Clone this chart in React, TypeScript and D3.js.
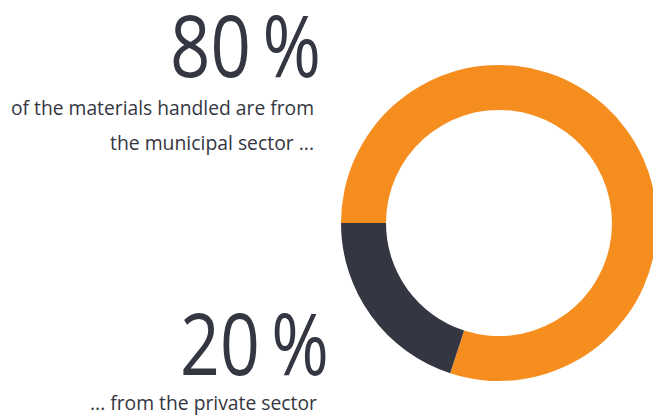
import { FC, useEffect, useRef } from "react";
import * as d3 from "d3";

// shares of handled materials by sector
const sectors = ["municipal", "private"];
const shares = [80, 20];
const sectorColors = ["#F68E1F", "#343641"];

const percentLabels = ["80\u2009%", "20\u2009%"];
const captionMunicipal = ["of the materials handled are from", "the municipal sector ..."];
const captionPrivate = ["... from the private sector"];

const App: FC = () => {
    const ref = useRef<SVGSVGElement>(null);

    useEffect(() => {
        const svg = d3.select(ref.current);
        svg.selectAll("*").remove();

        var width = 653,
            height = 417,
            cx = 499,
            cy = 223,
            outer = 158,
            inner = 113;

        var textColor = "#343641";
        var font = "'Open Sans', 'Noto Sans', sans-serif";

        var pie = d3.pie<number>()
            .sort(null)
            .startAngle(-Math.PI / 2)
            .endAngle(Math.PI * 1.5);

        var arc = d3.arc<d3.PieArcDatum<number>>()
            .innerRadius(inner)
            .outerRadius(outer);

        svg.attr("width", width).attr("height", height);

        svg.append("g")
            .attr("transform", "translate(" + cx + "," + cy + ")")
            .selectAll("path")
            .data(pie(shares))
            .enter()
            .append("path")
            .attr("d", arc)
            .attr("fill", (d, i) => sectorColors[i])
            .attr("data-sector", (d, i) => sectors[i]);

        // big percentage numbers
        var big = [
            { text: percentLabels[0], x: 321, y: 77, len: 151 },
            { text: percentLabels[1], x: 329, y: 375, len: 149 },
        ];
        svg.selectAll(".big")
            .data(big)
            .enter()
            .append("text")
            .attr("class", "big")
            .attr("x", d => d.x - d.len)
            .attr("y", d => d.y)
            .attr("textLength", d => d.len)
            .attr("lengthAdjust", "spacingAndGlyphs")
            .attr("font-family", font)
            .attr("font-size", 86)
            .attr("fill", textColor)
            .text(d => d.text);

        // captions
        var captions = [
            { text: captionMunicipal[0], x: 11, y: 115, len: 303 },
            { text: captionMunicipal[1], x: 110, y: 150, len: 204 },
            { text: captionPrivate[0], x: 90, y: 410, len: 227 },
        ];
        svg.selectAll(".caption")
            .data(captions)
            .enter()
            .append("text")
            .attr("class", "caption")
            .attr("x", d => d.x)
            .attr("y", d => d.y)
            .attr("textLength", d => d.len)
            .attr("lengthAdjust", "spacingAndGlyphs")
            .attr("font-family", font)
            .attr("font-size", 20.5)
            .attr("fill", textColor)
            .text(d => d.text);
    }, []);

    return (
        <svg ref={ref} style={{ position: "absolute", left: 0, top: 0, background: "#fff" }}></svg>
    );
};

export default App;
